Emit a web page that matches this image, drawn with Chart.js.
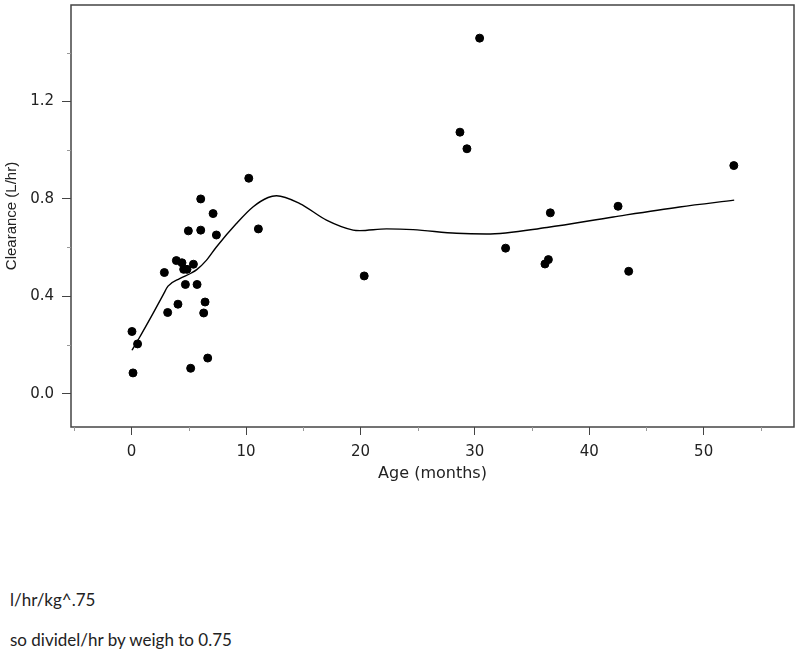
<!DOCTYPE html>
<html>
<head>
<meta charset="utf-8">
<script src="https://cdn.jsdelivr.net/npm/chart.js@4"></script>
<style>
body { margin: 0; background: #fff; width: 800px; height: 658px; position: relative; overflow: hidden; }
#myChart { position: absolute; left: 0; top: 0; }
.nota { position: absolute; left: 10px; font-family: Lato, "Open Sans", sans-serif; font-size: 17px; color: #222; white-space: nowrap; }
</style>
</head>
<body>
<canvas id="myChart" width="800" height="500"></canvas>
<div class="nota" style="top:589px">l/hr/kg^.75</div>
<div class="nota" style="top:629px">so dividel/hr by weigh to 0.75</div>
<script>
// observed points
const idade = [10.24, 6.04, 7.12, 4.96, 6.04, 7.41, 11.08, 3.91, 4.40, 5.40, 2.86, 4.55, 4.84, 4.70, 5.72, 6.42, 4.05, 3.15, 6.30, 0.03, 0.52, 6.65, 5.16, 0.12, 20.33,
               30.42, 28.70, 29.31, 52.64, 42.52, 36.60, 32.69, 36.43, 36.13, 43.45];
const clearance = [0.884, 0.799, 0.739, 0.668, 0.671, 0.651, 0.676, 0.546, 0.537, 0.531, 0.497, 0.510, 0.510, 0.448, 0.448, 0.376, 0.367, 0.333, 0.331, 0.255, 0.204, 0.146, 0.104, 0.085, 0.483,
                   1.459, 1.073, 1.005, 0.936, 0.769, 0.742, 0.597, 0.550, 0.532, 0.502];

// smooth curve
const curvaIdade = [0.03, 0.55, 1.86, 2.74, 3.18, 4.2, 5.22, 5.72, 6.53, 7.41, 9.16, 10.6, 11.93, 12.66, 14.7, 17.03, 19.36, 19.95, 22.28, 24.6, 28.4, 31.0, 36.3, 42.1, 47.9, 52.67];
const curvaClearance = [0.178, 0.219, 0.328, 0.404, 0.441, 0.472, 0.495, 0.51, 0.547, 0.602, 0.698, 0.766, 0.805, 0.812, 0.780, 0.712, 0.671, 0.669, 0.676, 0.673, 0.658, 0.655, 0.682, 0.725, 0.766, 0.794];

// ticks
const xMinor = [-5, 5, 15, 25, 35, 45, 55];
const yMinor = [0.2, 0.6, 1.0, 1.4];

let pontos = [];
idade.forEach((x, i) => pontos.push({x: x, y: clearance[i]}));
let curva = [];
curvaIdade.forEach((x, i) => curva.push({x: x, y: curvaClearance[i]}));

const fonteTick = {family: '"DejaVu Sans", sans-serif', size: 15};

// frame around the plot area + short minor ticks
const moldura = {
    id: 'moldura',
    afterDraw(chart) {
        const a = chart.chartArea;
        const ctx = chart.ctx;
        ctx.save();
        ctx.strokeStyle = '#444';
        ctx.lineWidth = 1.5;
        ctx.strokeRect(a.left, a.top, a.right - a.left, a.bottom - a.top);
        ctx.lineWidth = 1;
        ctx.strokeStyle = '#999';
        ctx.beginPath();
        xMinor.forEach(v => {
            const px = Math.round(chart.scales.x.getPixelForValue(v)) + 0.5;
            ctx.moveTo(px, a.bottom);
            ctx.lineTo(px, a.bottom + 4);
        });
        yMinor.forEach(v => {
            const py = Math.round(chart.scales.y.getPixelForValue(v)) + 0.5;
            ctx.moveTo(a.left, py);
            ctx.lineTo(a.left - 4, py);
        });
        ctx.stroke();
        ctx.restore();
    }
};

new Chart("myChart", {
    type: "scatter",
    data: {
        datasets: [{
            data: pontos,
            backgroundColor: "#000",
            borderColor: "#000",
            pointRadius: 4,
            pointHoverRadius: 4
        }, {
            data: curva,
            showLine: true,
            borderColor: "#000",
            borderWidth: 1.4,
            pointRadius: 0,
            cubicInterpolationMode: 'monotone'
        }]
    },
    options: {
        responsive: false,
        animation: false,
        layout: {padding: {top: 5, right: 6, left: 0, bottom: 0}},
        plugins: {legend: {display: false}, tooltip: {enabled: false}},
        scales: {
            x: {
                min: -5.3,
                max: 57.9,
                afterFit: s => { s.height = 73; s.paddingLeft = 0; s.paddingRight = 0; },
                ticks: {
                    stepSize: 10,
                    includeBounds: false,
                    autoSkip: false,
                    maxRotation: 0,
                    padding: 8,
                    color: "#222",
                    font: fonteTick
                },
                grid: {drawOnChartArea: false, tickLength: 8, tickColor: '#444'},
                border: {display: false},
                title: {display: true, text: "Age (months)", color: "#222", font: {family: fonteTick.family, size: 16}, padding: {top: 0, bottom: 17}}
            },
            y: {
                min: -0.137,
                max: 1.595,
                afterFit: s => { s.width = 71; s.paddingTop = 0; s.paddingBottom = 0; },
                ticks: {
                    stepSize: 0.4,
                    includeBounds: false,
                    autoSkip: false,
                    padding: 8,
                    color: "#222",
                    font: fonteTick,
                    callback: v => v.toFixed(1)
                },
                grid: {drawOnChartArea: false, tickLength: 9, tickColor: '#444'},
                border: {display: false},
                title: {display: true, text: "Clearance (L/hr)", color: "#222", font: {family: '"Liberation Sans", Arial, sans-serif', size: 15}, padding: {top: 3, bottom: 0}}
            }
        }
    },
    plugins: [moldura]
});
</script>
</body>
</html>
